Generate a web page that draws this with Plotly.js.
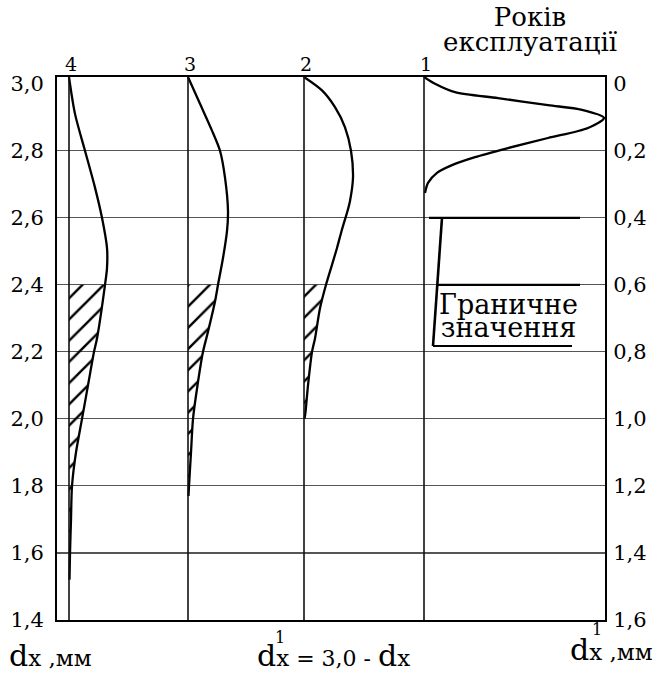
<!DOCTYPE html>
<html>
<head>
<meta charset="utf-8">
<script src="https://cdn.plot.ly/plotly-3.0.1.min.js"></script>
<style>
  html, body { margin: 0; padding: 0; background: #fff; }
  #chart { width: 656px; height: 681px; }
</style>
</head>
<body>
<div id="chart"></div>
<script>
// Diameter axis (left, mm) and wear axis d'x = 3,0 - dx (right, mm)
const dxRange = [1.4, 3.02];
const dxTickVals = [1.4, 1.6, 1.8, 2.0, 2.2, 2.4, 2.6, 2.8, 3.0];
const dxTickText = ['1,4', '1,6', '1,8', '2,0', '2,2', '2,4', '2,6', '2,8', '3,0'];
const gridVals = [1.6, 1.8, 2.0, 2.2, 2.4, 2.6, 2.8];
const wearTickVals = [0, 0.2, 0.4, 0.6, 0.8, 1.0, 1.2, 1.4, 1.6];
const wearTickText = ['0', '0,2', '0,4', '0,6', '0,8', '1,0', '1,2', '1,4', '1,6'];
const nominalDx = 3.0;

// Limit value of the diameter
const limitDx = 2.4;
const limitBracketTop = 2.6;
const limitBracketBottom = 2.2175;

// Years in service, one distribution per year
const yearLabels = ['4', '3', '2', '1'];

// Year 4
const dx4   = [3.02, 2.91, 2.80, 2.69, 2.60, 2.51, 2.45, 2.40, 2.24, 2.20, 2.10, 2.00, 1.90, 1.80, 1.70, 1.60, 1.52];
const freq4 = [0,    6,    16,   26,   33,   38,   38,   36,   28,   25,   19,   13,   7,    3,    2,    1,    0.5];
// Year 3
const dx3   = [3.02, 2.94, 2.86, 2.80, 2.72, 2.62, 2.56, 2.48, 2.40, 2.35, 2.26, 2.20, 2.09, 2.00, 1.90, 1.80, 1.77];
const freq3 = [0,    12,   24,   32,   37,   40,   39,   35,   30,   27,   20,   15,   9,    5,    3,    1,    0.5];
// Year 2
const dx2   = [3.02, 2.98, 2.93, 2.87, 2.80, 2.72, 2.65, 2.62, 2.60, 2.56, 2.51, 2.44, 2.40, 2.33, 2.24, 2.20, 2.10, 2.02, 2.00];
const freq2 = [0,    18,   31,   41,   47,   49,   46,   43.5, 41.5, 37.5, 33,   26,   22,   16,   11,   8,    4,    1.5,  0.5];
// Year 1
const dx1   = [3.02, 3.00, 2.975, 2.957, 2.936, 2.922, 2.898, 2.868, 2.838, 2.808, 2.781, 2.757, 2.734, 2.704, 2.674];
const freq1 = [0,    11,   31,    74,    124,   158,   180,   164,   124,   84,    51,    28,    13,    4,     1];

const limitText = ['Граничне', 'значення'];
const yearsTitle = ['Років', 'експлуатації'];

// ---- geometry of the drawing area (pixels) ----
const W = 656, H = 681;
const M = { l: 57, r: 51, t: 77, b: 61 };
const plotW = W - M.l - M.r;
const plotH = H - M.t - M.b;
const PX = v => (v - M.l) / plotW;
const PY = v => (H - M.b - v) / plotH;

// each distribution has its own horizontal axis whose zero sits on its baseline
const baselinePx = [69, 188, 304, 424];
const FONT = 'DejaVu Serif';
const INK = '#000';

const series = [
  { dx: dx4, f: freq4 },
  { dx: dx3, f: freq3 },
  { dx: dx2, f: freq2 },
  { dx: dx1, f: freq1 }
];

const traces = [];
series.forEach((s, i) => {
  const xa = 'x' + (i + 2);
  if (i < 3) {
    // hatched part below the limit value
    const hx = [], hy = [];
    s.dx.forEach((d, k) => { if (d <= limitDx) { hy.push(d); hx.push(s.f[k]); } });
    traces.push({
      type: 'scatter', mode: 'lines', x: hx, y: hy, xaxis: xa, yaxis: 'y',
      line: { width: 0, shape: 'spline', smoothing: 0.8 },
      fill: 'tozerox', fillcolor: 'rgba(0,0,0,0)',
      fillpattern: { shape: '/', size: 15, solidity: 0.16, fgcolor: INK, bgcolor: 'rgba(0,0,0,0)' },
      hoverinfo: 'skip'
    });
  }
  traces.push({
    type: 'scatter', mode: 'lines', x: s.f, y: s.dx, xaxis: xa, yaxis: 'y',
    line: { color: INK, width: 2.3, shape: 'spline', smoothing: 0.8 },
    hoverinfo: 'skip'
  });
});
// carriers for the wear axis and the grid axis
traces.push({ type: 'scatter', mode: 'markers', x: [0.5], y: [0.8], xaxis: 'x', yaxis: 'y2', marker: { opacity: 0 }, hoverinfo: 'skip' });
traces.push({ type: 'scatter', mode: 'markers', x: [0.5], y: [2.0], xaxis: 'x', yaxis: 'y3', marker: { opacity: 0 }, hoverinfo: 'skip' });

const layout = {
  width: W, height: H,
  margin: M,
  showlegend: false,
  paper_bgcolor: '#fff',
  plot_bgcolor: 'rgba(0,0,0,0)',
  font: { family: FONT, color: INK },
  xaxis: {
    range: [0, 1], showgrid: false, zeroline: false, showticklabels: false, ticks: '',
    showline: true, mirror: true, linewidth: 2, linecolor: INK, fixedrange: true
  },
  yaxis: {
    range: dxRange, tickmode: 'array', tickvals: dxTickVals, ticktext: dxTickText,
    showgrid: false, zeroline: false, showline: true, mirror: true, linewidth: 2, linecolor: INK,
    ticks: 'outside', ticklen: 7, tickcolor: 'rgba(0,0,0,0)',
    tickfont: { family: FONT, size: 21, color: INK }, fixedrange: true
  },
  yaxis2: {
    overlaying: 'y', side: 'right', anchor: 'x',
    range: [nominalDx - dxRange[0], nominalDx - dxRange[1]],
    tickmode: 'array', tickvals: wearTickVals, ticktext: wearTickText,
    showgrid: false, zeroline: false, showline: false,
    ticks: 'outside', ticklen: 3, tickcolor: 'rgba(0,0,0,0)',
    tickfont: { family: FONT, size: 21, color: INK }, fixedrange: true
  },
  yaxis3: {
    overlaying: 'y', side: 'left', anchor: 'x', range: dxRange,
    tickmode: 'array', tickvals: gridVals, showticklabels: false, ticks: '',
    showgrid: true, gridcolor: '#555', gridwidth: 1.1, zeroline: false, showline: false, fixedrange: true
  },
  shapes: [],
  annotations: []
};

// per-year axes: zero on the baseline, 1 unit = 1 px
baselinePx.forEach((bx, i) => {
  const off = bx - M.l;
  layout['xaxis' + (i + 2)] = {
    overlaying: 'x', anchor: 'y', range: [-off, plotW - off], visible: false, fixedrange: true
  };
  layout.shapes.push({
    type: 'line', xref: 'x' + (i + 2), yref: 'paper', x0: 0, x1: 0, y0: 0, y1: 1,
    line: { color: '#111', width: 1.6 }, layer: 'above'
  });
  layout.annotations.push({
    xref: 'x' + (i + 2), yref: 'paper', x: 0, y: 1, xanchor: 'center', yanchor: 'bottom',
    xshift: 2, yshift: 0, showarrow: false, text: yearLabels[i],
    font: { family: FONT, size: 19, color: INK }
  });
});

// bracket marking the limit value
const bl = { color: INK, width: 2.2 };
layout.shapes.push(
  { type: 'line', xref: 'x5', yref: 'y', x0: 5,  x1: 156, y0: limitBracketTop, y1: limitBracketTop, line: bl, layer: 'above' },
  { type: 'line', xref: 'x5', yref: 'y', x0: 13, x1: 156, y0: limitDx, y1: limitDx, line: bl, layer: 'above' },
  { type: 'line', xref: 'x5', yref: 'y', x0: 18, x1: 9,   y0: limitBracketTop, y1: limitBracketBottom, line: { color: INK, width: 2.6 }, layer: 'above' },
  { type: 'line', xref: 'x5', yref: 'y', x0: 9,  x1: 148, y0: limitBracketBottom, y1: limitBracketBottom, line: bl, layer: 'above' }
);

function note(text, x, y, size, xanchor) {
  layout.annotations.push({
    xref: 'paper', yref: 'paper', x: PX(x), y: PY(y), xanchor: xanchor || 'center', yanchor: 'middle',
    showarrow: false, text: text, font: { family: FONT, size: size, color: INK }
  });
}
const sized = (t, s) => '<span style="font-size:' + s + 'px">' + t + '</span>';

// two-line texts: the base size sets the (tight) line spacing, the spans set the glyph size
note(sized(yearsTitle[0], 26) + '<br>' + sized(yearsTitle[1], 26), 530, 29, 19);
note(sized(limitText[0], 27) + '<br>' + sized(limitText[1], 27), 508, 316, 18);

const big = t => sized(t, 30);
note(big('d') + 'x ,мм', 7, 655, 23, 'left');
note(big('d') + 'x' + sized(' = 3,0 - ', 22) + big('d') + 'x', 333, 655, 23);
note(big('d') + 'x ,мм', 655, 649, 23, 'right');
note('1', 280, 637, 16);
note('1', 597, 629, 16);

Plotly.newPlot('chart', traces, layout, { staticPlot: true, displayModeBar: false });
</script>
</body>
</html>
